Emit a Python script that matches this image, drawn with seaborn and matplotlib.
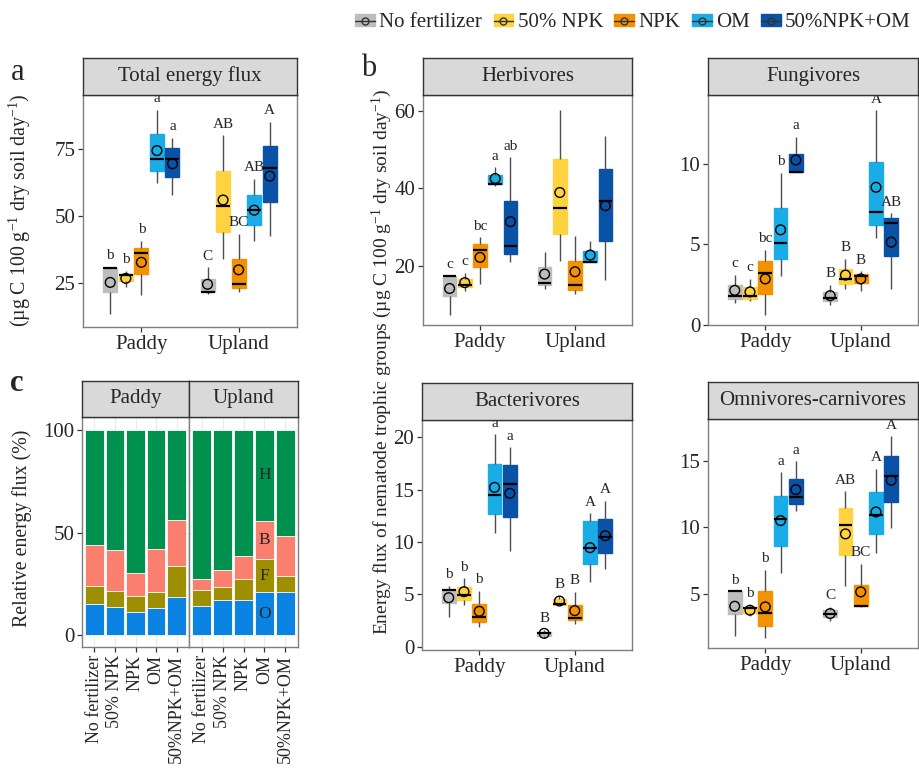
import numpy as np
import pandas as pd
import matplotlib
matplotlib.use('Agg')
import matplotlib.pyplot as plt
import seaborn as sns
from matplotlib.patches import Patch
from matplotlib.lines import Line2D

habitats = ['Paddy', 'Upland']
treatments = ['No fertilizer', '50% NPK', 'NPK', 'OM', '50%NPK+OM']
box_colors = ['#BDBDBD', '#FFD23F', '#F29200', '#1AACE6', '#0A52A5']

# five-number summaries (min, q1, median, q3, max); 5 Paddy boxes then 5 Upland boxes
total_box = [[13.5, 21.8, 30.4, 30.4, 31.0], [23.4, 25.9, 28.0, 28.3, 29.5],
             [20.5, 28.3, 36.1, 38.2, 40.7], [62.1, 66.7, 71.3, 80.3, 89.6],
             [57.7, 64.5, 71.3, 75.1, 79.1], [20.9, 21.5, 21.5, 26.5, 30.8],
             [33.9, 43.8, 53.7, 66.7, 80.0], [21.8, 23.3, 24.6, 34.1, 43.2],
             [40.7, 46.5, 52.1, 57.8, 63.9], [42.6, 55.2, 67.7, 76.0, 84.9]]
total_mean = [25.2, 26.7, 32.7, 74.3, 69.4, 24.5, 55.9, 29.9, 52.1, 64.8]
total_letters = ['b', 'b', 'b', 'a', 'a', 'C', 'AB', 'BC', 'AB', 'A']

herb_box = [[7.4, 12.3, 17.4, 17.4, 17.6], [13.6, 14.5, 15.1, 16.6, 18.3],
            [15.4, 19.7, 24.0, 25.7, 27.4], [40.6, 41.2, 41.2, 43.3, 45.4],
            [21.1, 23.1, 25.2, 36.6, 48.0], [14.1, 15.1, 15.7, 19.7, 23.7],
            [21.4, 28.2, 34.9, 47.6, 60.2], [12.7, 13.8, 15.0, 21.3, 27.8],
            [20.9, 20.9, 20.9, 23.8, 26.3], [16.4, 26.4, 36.7, 45.0, 53.5]]
herb_mean = [14.2, 15.7, 22.2, 42.5, 31.4, 17.9, 38.9, 18.5, 22.8, 35.5]
herb_letters = ['c', 'c', 'bc', 'a', 'ab', '', '', '', '', '']

fungi_box = [[1.35, 1.6, 1.8, 2.48, 3.1], [1.45, 1.6, 1.8, 2.34, 2.84],
             [0.62, 1.9, 3.2, 3.93, 4.66], [3.04, 4.08, 5.11, 7.29, 9.46],
             [9.48, 9.48, 9.48, 10.62, 11.7], [1.24, 1.45, 1.66, 2.0, 2.48],
             [2.22, 2.53, 2.84, 3.46, 4.1], [2.07, 2.59, 3.04, 3.17, 3.31],
             [5.38, 6.21, 7.0, 10.14, 13.35], [2.22, 4.24, 6.31, 6.63, 6.94]]
fungi_mean = [2.13, 2.03, 2.84, 5.9, 10.25, 1.8, 3.08, 2.84, 8.55, 5.13]
fungi_letters = ['c', 'c', 'bc', 'b', 'a', 'B', 'B', 'B', 'A', 'AB']

bact_box = [[2.8, 4.14, 5.41, 5.41, 5.8], [3.98, 4.46, 4.94, 5.73, 6.53],
            [1.91, 2.39, 2.8, 4.08, 5.35], [10.9, 12.68, 14.52, 17.42, 20.3],
            [9.17, 12.42, 15.57, 17.32, 19.04], [0.8, 1.05, 1.27, 1.43, 1.6],
            [3.98, 3.98, 4.04, 4.52, 4.84], [2.17, 2.55, 2.71, 3.98, 5.25],
            [6.21, 7.9, 9.46, 12.0, 12.74], [7.39, 8.92, 10.48, 12.2, 13.95]]
bact_mean = [4.68, 5.25, 3.38, 15.22, 14.65, 1.27, 4.36, 3.44, 9.46, 10.6]
bact_letters = ['b', 'b', 'b', 'a', 'a', 'B', 'B', 'B', 'A', 'A']

omni_box = [[1.84, 3.47, 5.18, 5.18, 5.18], [3.3, 3.55, 3.9, 3.97, 4.17],
            [1.67, 2.59, 3.55, 5.18, 6.8], [6.55, 8.61, 10.61, 12.37, 14.12],
            [11.19, 11.74, 12.29, 13.62, 14.95], [2.92, 3.25, 3.5, 3.75, 4.0],
            [5.55, 7.93, 10.19, 11.44, 12.69], [4.0, 4.1, 4.1, 5.68, 7.26],
            [8.06, 9.49, 10.94, 12.62, 14.37], [9.94, 11.89, 13.87, 15.38, 16.83]]
omni_mean = [4.05, 3.75, 4.0, 10.49, 12.82, 3.5, 9.49, 5.13, 11.14, 13.52]
omni_letters = ['b', 'b', 'b', 'a', 'a', 'C', 'AB', 'BC', 'A', 'A']

# relative energy flux (%), stacked O, F, B, H
groups = ['O', 'F', 'B', 'H']
group_colors = ['#0A83E3', '#9E8F00', '#FA7F6F', '#00914F']
rel_O = [15.4, 13.8, 11.2, 13.5, 18.5, 14.3, 17.1, 17.1, 21.0, 21.1]
rel_F = [8.8, 7.7, 8.0, 7.6, 15.3, 7.8, 6.2, 10.2, 16.1, 7.8]
rel_B = [19.5, 19.8, 10.9, 20.9, 22.1, 5.1, 8.6, 11.4, 18.7, 19.6]
rel_H = [100 - o - f - b for o, f, b in zip(rel_O, rel_F, rel_B)]

sns.set_style('white')
plt.rcParams['font.family'] = ['Liberation Serif', 'DejaVu Serif']
plt.rcParams['mathtext.fontset'] = 'custom'
plt.rcParams['mathtext.rm'] = 'Liberation Serif'
plt.rcParams['mathtext.it'] = 'Liberation Serif:italic'

W, H = 920, 769
FS = 15
fig = plt.figure(figsize=(W / 100, H / 100), dpi=100)


def rect(x0, y0, x1, y1):
    return [x0 / W, 1 - y1 / H, (x1 - x0) / W, (y1 - y0) / H]


def strip(x0, y0, x1, y1, title):
    s = fig.add_axes(rect(x0, y0, x1, y1))
    s.set_facecolor('#D9D9D9')
    s.set_xticks([])
    s.set_yticks([])
    for sp in s.spines.values():
        sp.set_color('#333333')
        sp.set_linewidth(1)
    s.text(0.5, 0.5, title, ha='center', va='center', fontsize=FS, transform=s.transAxes)


def style_axes(ax, size=FS):
    for sp in ax.spines.values():
        sp.set_visible(True)
        sp.set_color('#7F7F7F')
        sp.set_linewidth(1)
    ax.tick_params(axis='both', length=3.5, width=0.9, color='#333333',
                   labelsize=size, pad=2, bottom=True, left=True)
    ax.set_xlabel('')
    ax.set_ylabel('')


def box_panel(box_rect, title, box, means, letters, ylim, yticks):
    x0, y0, x1, y1 = box_rect
    ax = fig.add_axes(rect(x0, y0, x1, y1))
    rows = []
    for k, five in enumerate(box):
        for v in five:
            rows.append((habitats[k // 5], treatments[k % 5], v))
    df = pd.DataFrame(rows, columns=['habitat', 'treatment', 'value'])
    mdf = pd.DataFrame({'habitat': [habitats[k // 5] for k in range(10)],
                        'treatment': [treatments[k % 5] for k in range(10)],
                        'mean': means})
    sns.boxplot(data=df, x='habitat', y='value', hue='treatment', order=habitats,
                hue_order=treatments, palette=box_colors, saturation=1,
                whis=(0, 100), width=0.8, gap=0.1, showcaps=False, showfliers=False,
                linecolor='#4D4D4D', linewidth=1,
                medianprops=dict(color='black', linewidth=1.6),
                legend=False, ax=ax)
    for p in ax.patches:
        p.set_edgecolor(p.get_facecolor())
    sns.stripplot(data=mdf, x='habitat', y='mean', hue='treatment', order=habitats,
                  hue_order=treatments, palette=box_colors, dodge=True, jitter=False,
                  size=7, linewidth=1, edgecolor='black', legend=False, ax=ax, zorder=5)
    for c in ax.collections:
        c.set_facecolor('none')
        c.set_edgecolor('black')
    ax.set_xlim(-0.6, 1.6)
    ax.set_ylim(*ylim)
    ax.set_yticks(yticks)
    pad = 0.02 * (ylim[1] - ylim[0])
    for k, lab in enumerate(letters):
        if lab:
            xpos = k // 5 + (k % 5 - 2) * 0.16
            ax.text(xpos, box[k][4] + pad, lab, ha='center', va='bottom', fontsize=11)
    style_axes(ax)
    strip(x0, y0 - 37, x1, y0, title)
    return ax


box_panel((83, 95, 297, 327), 'Total energy flux', total_box, total_mean, total_letters,
          (8.6, 95), [25, 50, 75])
box_panel((423, 95, 632, 325), 'Herbivores', herb_box, herb_mean, herb_letters,
          (4.8, 64), [20, 40, 60])
box_panel((708, 95, 918, 325), 'Fungivores', fungi_box, fungi_mean, fungi_letters,
          (-0.03, 14.3), [0, 5, 10])
box_panel((422, 420, 632, 650), 'Bacterivores', bact_box, bact_mean, bact_letters,
          (-0.32, 21.66), [0, 5, 10, 15, 20])
box_panel((708, 419, 918, 648), 'Omnivores-carnivores', omni_box, omni_mean, omni_letters,
          (0.91, 18.13), [5, 10, 15])

# panel c: stacked relative flux
layers = [rel_O, rel_F, rel_B, rel_H]
cum = np.cumsum(np.array(layers), axis=0)
for h, (x0, x1) in enumerate([(82, 189), (189, 298)]):
    ax = fig.add_axes(rect(x0, 417, x1, 647))
    ax.set_axisbelow(True)
    for g in range(3, -1, -1):
        sns.barplot(x=treatments, y=cum[g, h * 5:(h + 1) * 5], order=treatments,
                    color=group_colors[g], saturation=1, width=0.9,
                    edgecolor='white', linewidth=0.6, ax=ax)
    if h == 1:
        j = 3
        for g in range(4):
            lo = cum[g - 1, h * 5 + j] if g > 0 else 0
            ax.text(j, (lo + cum[g, h * 5 + j]) / 2, groups[g], ha='center', va='center',
                    fontsize=12.5)
    ax.set_xlim(-0.6, 4.6)
    ax.set_ylim(-5.7, 106.2)
    ax.set_yticks([0, 50, 100])
    ax.set_yticks([25, 75], minor=True)
    ax.grid(True, which='major', color='#EBEBEB', linewidth=0.9)
    ax.grid(True, which='minor', axis='y', color='#F2F2F2', linewidth=0.5)
    style_axes(ax)
    ax.tick_params(axis='x', labelrotation=90, labelsize=13)
    if h == 1:
        ax.tick_params(axis='y', left=False, labelleft=False, which='both')
    else:
        ax.tick_params(axis='y', which='minor', left=False)
    strip(x0, 381, x1, 417, habitats[h])

# axis titles and panel letters
unit = r'(µg C 100 g$^{-1}$ dry soil day$^{-1}$)'
fig.text(20 / W, 1 - 210 / H, unit, rotation=90, ha='center', va='center', fontsize=14.3)
fig.text(382 / W, 1 - 362 / H, 'Energy flux of nematode trophic groups ' + unit,
         rotation=90, ha='center', va='center', fontsize=14)
fig.text(22 / W, 1 - 528 / H, 'Relative energy flux (%)', rotation=90,
         ha='center', va='center', fontsize=14.3)
fig.text(18 / W, 1 - 73 / H, 'a', ha='center', va='center', fontsize=22)
fig.text(369 / W, 1 - 68 / H, 'b', ha='center', va='center', fontsize=22)
fig.text(17 / W, 1 - 384 / H, 'c', ha='center', va='center', fontsize=22, fontweight='bold')

handles = [(Patch(facecolor=c, edgecolor=c),
            Line2D([], [], color='#333333', linewidth=1, marker='o', markersize=5,
                   markerfacecolor='none', markeredgecolor='#333333'))
           for c in box_colors]
fig.legend(handles, treatments, loc='upper right', bbox_to_anchor=(919 / W, 1 - 5 / H),
           ncol=5, frameon=False, fontsize=15, handlelength=0.95, handleheight=0.55,
           columnspacing=0.55, handletextpad=0.2, borderaxespad=0)

fig.savefig('out.png', dpi=100)
